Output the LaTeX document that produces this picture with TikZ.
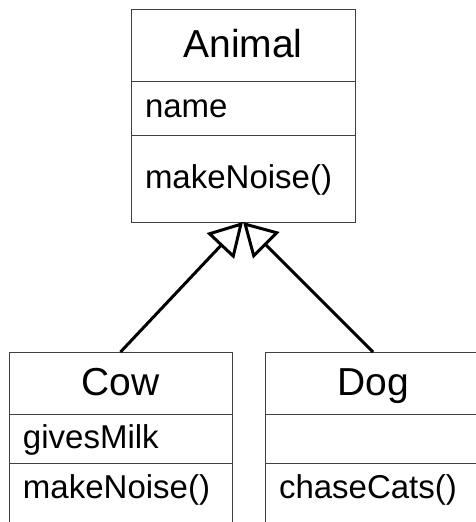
\documentclass[tikz,border=0pt]{standalone}
\usepackage{fontspec}
\setmainfont{Liberation Sans}
\usetikzlibrary{positioning,arrows.meta}

\begin{document}
\begin{tikzpicture}[x=1pt,y=-1pt,
  part/.style={draw=black!75,line width=1pt,outer sep=0pt,inner xsep=14pt,inner ysep=2pt},
  classname/.style={part,font=\fontsize{39}{44}\selectfont,align=center,text height=28pt,text depth=4pt},
  members/.style={part,font=\fontsize{33}{38}\selectfont,align=left,text height=23pt,text depth=3.5pt},
  inherit/.style={line width=3pt,-{Triangle[open,length=33pt,width=37pt]}}]
\useasboundingbox (0,0) rectangle (476,522);
% superclass
\node[classname,anchor=north,text width=196pt,minimum height=72pt] (animal) at (243,9) {Animal};
\node[members,text width=196pt,minimum height=54pt,below=0pt of animal] (animalattr) {name};
\node[members,text width=196pt,minimum height=87pt,below=0pt of animalattr] (animalops) {makeNoise()};
% subclasses, cut off at the bottom
\node[classname,anchor=north,text width=195pt,minimum height=62pt] (cow) at (120.5,352) {Cow};
\node[members,text width=195pt,minimum height=49pt,below=0pt of cow] (cowattr) {givesMilk};
\node[members,text width=195pt,minimum height=90pt,text depth=43pt,below=0pt of cowattr] (cowops) {makeNoise()};
\node[classname,anchor=north,text width=188pt,minimum height=62pt] (dog) at (373,352) {Dog};
\node[members,text width=188pt,minimum height=49pt,below=0pt of dog] (dogattr) {};
\node[members,text width=188pt,minimum height=90pt,text depth=43pt,below=0pt of dogattr] (dogops) {chaseCats()};
% generalisation
\draw[inherit] (cow.north) -- (animalops.south);
\draw[inherit] (dog.north) -- (animalops.south);
\end{tikzpicture}
\end{document}
